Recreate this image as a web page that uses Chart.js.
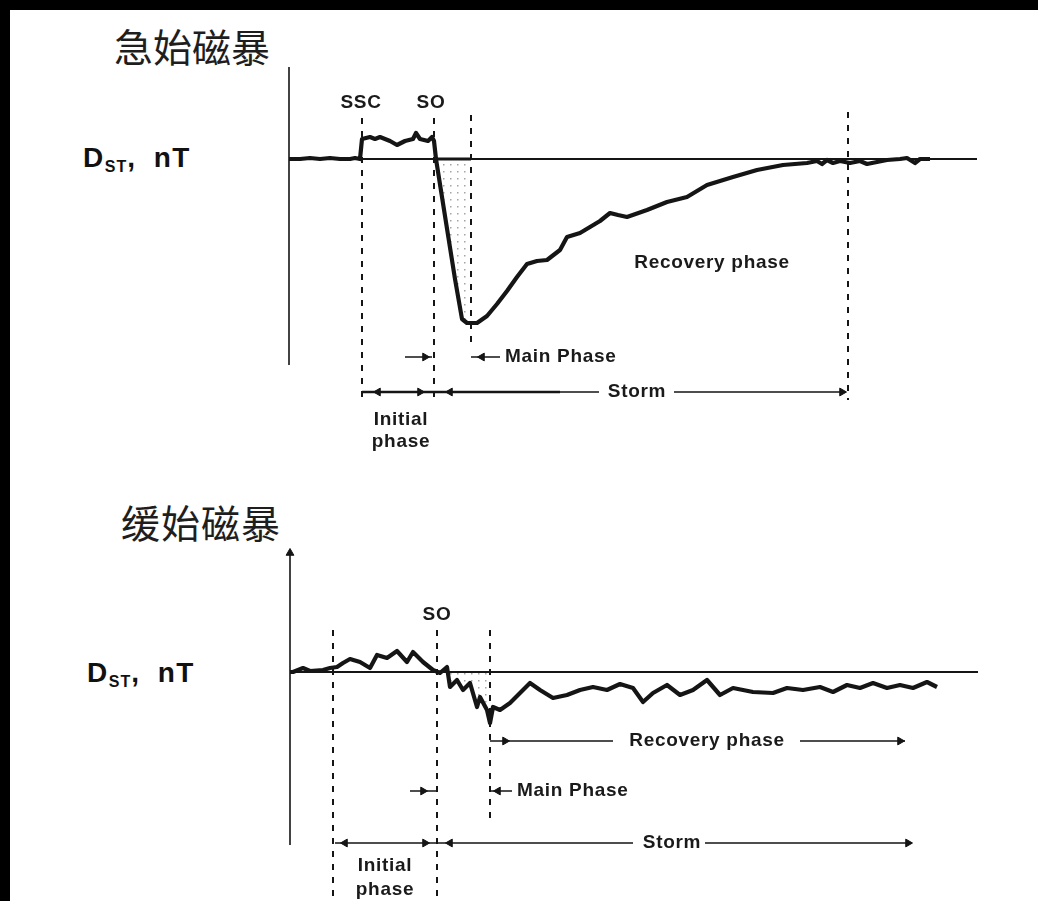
<!DOCTYPE html>
<html>
<head>
<meta charset="utf-8">
<title>急始磁暴 / 缓始磁暴</title>
<script src="https://cdn.jsdelivr.net/npm/chart.js@4.4.1/dist/chart.umd.min.js"></script>
<style>
  html, body { margin: 0; padding: 0; background: #000; }
  body { position: relative; width: 1038px; height: 901px; overflow: hidden; }
  #sheet { position: absolute; left: 10px; top: 10px; right: 0; bottom: 0; background: #fff; }
  canvas { position: absolute; left: 0; }
  #topChart { top: 0; }
  #bottomChart { top: 460px; }
  .title { position: absolute; font-family: "Noto Sans CJK SC"; font-size: 39px; line-height: 39px; color: #1e1e1e; white-space: nowrap; }
  .dst { position: absolute; font-family: "Liberation Sans", Arial, sans-serif; font-weight: bold; font-size: 28px; line-height: 28px; color: #111; white-space: nowrap; letter-spacing: 1.5px; word-spacing: 8px; }
  .dst sub { font-size: 16px; vertical-align: baseline; position: relative; top: 5px; letter-spacing: 1px; }
</style>
</head>
<body>
<div id="sheet"></div>
<div class="title" style="left:114px;top:26px">急始磁暴</div>
<div class="title" style="left:121px;top:502px;letter-spacing:1px">缓始磁暴</div>
<div class="dst" style="left:83px;top:144px">D<sub>ST</sub>, nT</div>
<div class="dst" style="left:87px;top:659px">D<sub>ST</sub>, nT</div>
<canvas id="topChart" width="1038" height="460"></canvas>
<canvas id="bottomChart" width="1038" height="441"></canvas>
<script>
// ── Data (time in h, Dst in nT) ──────────────────────────────────
// sudden commencement storm
const scTime = [0, 1.1, 2.1, 3.1, 4.1, 5.1, 6.1, 6.6, 7.1, 7.3, 7.7, 8.1, 8.6, 9.1, 10.1, 10.8, 11.6, 12.4, 12.7,
    13.1, 13.9, 14.3, 14.5, 14.7, 15.6, 16.6, 17.3, 17.8, 18.8, 19.8, 20.8, 21.8, 22.8, 23.8, 24.8, 25.8, 27.1,
    27.8, 29.1, 30.1, 31.1, 32.1, 32.9, 33.8, 35.8, 37.8, 39.8, 41.8, 44.4, 46.8, 49.4, 51.8, 52.8, 53.3, 53.8,
    54.4, 55.1, 56.1, 57.1, 57.8, 58.8, 59.8, 61.1, 61.8, 62.6, 63.1, 64.1];
const scDst = [0, 0, 1, 0, 1, 0, 0, 1, 0, 20, 21, 22, 20, 22, 18, 14, 18, 20, 26,
    20, 18, 22, 18, 0, -57, -120, -160, -164, -164, -157, -145, -132, -118, -105, -102, -101, -91,
    -78, -74, -68, -62, -54, -56, -58, -51, -43, -38, -26, -18, -11, -6, -4, -2, -5, -1,
    -4, -2, -4, -2, -5, -3, -1, 0, 1, -4, 0, 0];
const scEvents = { ssc: 7.3, so: 14.5, mainEnd: 18.2, stormEnd: 55.9 };

// gradual commencement storm
const gcTime = [0, 0.3, 1.3, 2.0, 3.3, 4.0, 4.7, 5.3, 6.0, 7.0, 8.0, 8.7, 9.7, 10.7, 11.7, 12.3, 13.3, 14.3,
    15.0, 15.7, 16.0, 16.7, 17.3, 18.0, 18.7, 19.0, 19.7, 20.0, 20.3, 21.0, 22.0, 23.0, 24.0, 25.0, 26.3, 27.7,
    29.0, 30.3, 31.7, 33.0, 34.3, 35.3, 36.3, 37.7, 39.0, 40.3, 41.7, 43.0, 44.3, 46.3, 48.3, 49.7, 51.3, 53.0,
    54.3, 55.7, 57.0, 58.3, 59.7, 61.0, 62.3, 63.7, 64.7];
const gcDst = [0, 0, 4, 1, 2, 4, 5, 9, 13, 10, 4, 17, 14, 21, 10, 20, 10, 2,
    -1, 5, -15, -8, -18, -11, -35, -25, -38, -51, -35, -38, -31, -21, -11, -18, -26, -23,
    -18, -15, -18, -12, -16, -30, -21, -13, -23, -18, -8, -23, -16, -20, -21, -16, -18, -15,
    -20, -13, -16, -11, -16, -13, -16, -10, -15];
const gcEvents = { start: 4.3, so: 14.7, mainEnd: 20.0 };

// ── Helpers ──────────────────────────────────────────────────────
const INK = '#151515';
const pts = (xs, ys) => xs.map((x, i) => ({ x, y: ys[i] }));

const dotPattern = (ctx) => {
    const c = document.createElement('canvas');
    c.width = 7; c.height = 7;
    const p = c.getContext('2d');
    p.fillStyle = 'rgba(90,90,90,.55)';
    p.fillRect(2, 3, 1.5, 1.5);
    return ctx.createPattern(c, 'repeat');
};

const curve = (data) => ({ data, borderColor: INK, borderWidth: 4.2, order: 0, borderJoinStyle: 'round' });

const shade = (data, from, to, ctx) => {
    const part = data.filter(p => p.x >= from && p.x <= to);
    part.push({ x: to, y: part[part.length - 1].y });
    return { data: part, borderWidth: 0, fill: 'origin', backgroundColor: dotPattern(ctx), order: 20 };
};

const line = (data, width) => ({ data, borderColor: INK, borderWidth: width || 1.6, order: 5 });

const vline = (t, y0, y1) => ({
    data: [{ x: t, y: y0 }, { x: t, y: y1 }],
    borderColor: INK, borderWidth: 2, borderDash: [6, 7], order: 6,
});

const hsegs = (y, segs, width) => {
    const data = [];
    segs.forEach(([a, b], i) => {
        if (i) data.push({ x: (a + data[data.length - 1].x) / 2, y: null });
        data.push({ x: a, y }, { x: b, y });
    });
    return { data, borderColor: INK, borderWidth: width || 1.6, spanGaps: false, order: 5 };
};

const ROT = { up: 0, right: 90, left: -90 };
const heads = (list, dir) => ({
    data: list.map(([x, y]) => ({ x, y })),
    showLine: false, pointStyle: 'triangle', pointRadius: 4.5,
    rotation: ROT[dir],
    pointBackgroundColor: INK, pointBorderColor: INK, pointBorderWidth: 1, order: 4,
});

const labels = (items) => ({
    id: 'labels',
    afterDatasetsDraw(chart) {
        const { ctx, scales: { x, y } } = chart;
        ctx.save();
        ctx.fillStyle = '#1a1a1a';
        ctx.textBaseline = 'middle';
        ctx.font = 'bold 19px "Liberation Sans", Arial, sans-serif';
        ctx.letterSpacing = '0.7px';
        items.forEach(l => {
            ctx.textAlign = l.align || 'center';
            ctx.fillText(l.text, x.getPixelForValue(l.x), y.getPixelForValue(l.y));
        });
        ctx.restore();
    }
});

const baseOptions = (xr, yr) => ({
    responsive: false,
    animation: false,
    events: [],
    layout: { autoPadding: false, padding: 0 },
    elements: { point: { radius: 0 }, line: { tension: 0 } },
    plugins: { legend: { display: false }, tooltip: { enabled: false } },
    scales: {
        x: { type: 'linear', display: false, min: xr[0], max: xr[1] },
        y: { type: 'linear', display: false, min: yr[0], max: yr[1] },
    },
});

// ── 急始磁暴 (sudden commencement) ────────────────────────────────
const topCtx = document.getElementById('topChart').getContext('2d');
const scData = pts(scTime, scDst);

new Chart(topCtx, {
    type: 'line',
    data: {
        datasets: [
            curve(scData),
            shade(scData, scEvents.so, scEvents.mainEnd, topCtx),
            line([{ x: 0, y: 0 }, { x: 68.8, y: 0 }], 1.8),
            line([{ x: scEvents.so, y: 0 }, { x: scEvents.mainEnd, y: 0 }], 3),
            line([{ x: 0, y: 92 }, { x: 0, y: -206 }], 1.6),
            vline(scEvents.ssc, 41, -243),
            vline(scEvents.so, 41, -243),
            vline(scEvents.mainEnd, 44, -186),
            vline(scEvents.stormEnd, 47, -241),
            hsegs(-198, [[11.6, 14.3], [18.2, 21.1]], 1.6),
            hsegs(-233, [[7.3, 27.1]], 2.6),
            hsegs(-233, [[27.1, 31.0], [38.5, 55.7]], 1.4),
            heads([[13.6, -198], [13.1, -233], [55.3, -233]], 'right'),
            heads([[19.3, -198], [8.9, -233], [16.1, -233]], 'left'),
        ]
    },
    options: baseOptions([-28.9, 74.9], [-301, 159]),
    plugins: [labels([
        { text: 'SSC', x: 7.2, y: 56 },
        { text: 'SO', x: 14.2, y: 56 },
        { text: 'Recovery phase', x: 42.3, y: -104 },
        { text: 'Main Phase', x: 21.6, y: -198, align: 'left' },
        { text: 'Storm', x: 34.8, y: -233 },
        { text: 'Initial', x: 11.2, y: -261 },
        { text: 'phase', x: 11.2, y: -283 },
    ])],
});

// ── 缓始磁暴 (gradual commencement) ───────────────────────────────
const botCtx = document.getElementById('bottomChart').getContext('2d');
const gcData = pts(gcTime, gcDst);

new Chart(botCtx, {
    type: 'line',
    data: {
        datasets: [
            curve(gcData),
            shade(gcData, gcEvents.so, gcEvents.mainEnd, botCtx),
            line([{ x: 0, y: 0 }, { x: 68.8, y: 0 }], 1.8),
            line([{ x: 0, y: 120 }, { x: 0, y: -173 }], 1.6),
            heads([[0, 119]], 'up'),
            vline(gcEvents.start, 42, -229),
            vline(gcEvents.so, 42, -229),
            vline(gcEvents.mainEnd, 42, -151),
            hsegs(-69, [[20.0, 32.3], [51.0, 61.5]], 1.4),
            hsegs(-119, [[12.0, 14.6], [20.0, 22.2]], 1.6),
            hsegs(-171, [[4.5, 34.3], [41.5, 62.2]], 1.6),
            heads([[21.5, -69], [61.0, -69], [13.3, -119], [13.5, -171], [61.8, -171]], 'right'),
            heads([[20.8, -119], [5.5, -171], [16.0, -171]], 'left'),
        ]
    },
    options: baseOptions([-29.0, 74.8], [-229, 212]),
    plugins: [labels([
        { text: 'SO', x: 14.7, y: 57 },
        { text: 'Recovery phase', x: 41.7, y: -69 },
        { text: 'Main Phase', x: 22.7, y: -119, align: 'left' },
        { text: 'Storm', x: 38.2, y: -171 },
        { text: 'Initial', x: 9.5, y: -194 },
        { text: 'phase', x: 9.5, y: -218 },
    ])],
});
</script>
</body>
</html>
